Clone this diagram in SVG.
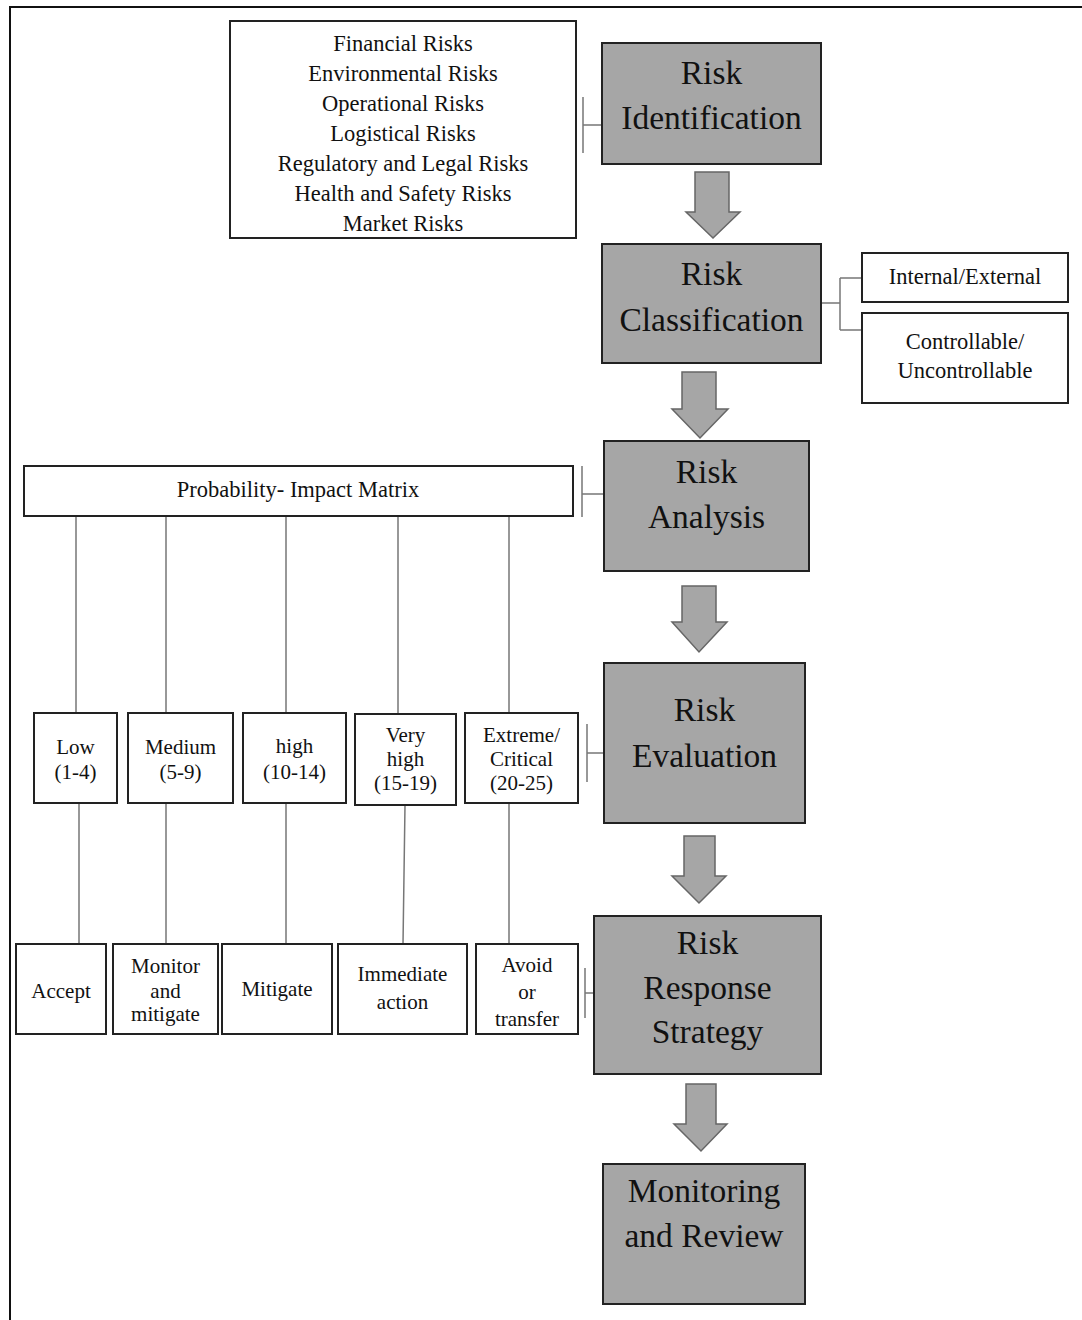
<svg xmlns="http://www.w3.org/2000/svg" width="1082" height="1320" viewBox="0 0 1082 1320">
<style>
.main{fill:#a6a6a6;stroke:#222;stroke-width:2}
.box{fill:#fff;stroke:#222;stroke-width:2}
.big{font-family:"Liberation Serif",serif;font-size:33.5px;fill:#111;text-anchor:middle}
.sm{font-family:"Liberation Serif",serif;font-size:21px;fill:#111;text-anchor:middle}
.md{font-family:"Liberation Serif",serif;font-size:22.5px;fill:#111;text-anchor:middle}
.ln{stroke:#777;stroke-width:1.5;fill:none}
.arr{fill:#a6a6a6;stroke:#666;stroke-width:1.5}
</style>
<rect width="1082" height="1320" fill="#fff"/>
<path d="M10,1320 V7 H1082" fill="none" stroke="#111" stroke-width="2"/>

<g id="connectors">
<path class="ln" d="M583,97 V153 M583,125 H602"/>
<path class="ln" d="M821,303 H840 M840,278 V330 M840,278 H862 M840,330 H862"/>
<path class="ln" d="M582,466 V517 M582,494 H604"/>
<path class="ln" d="M587,724 V782 M587,753 H604"/>
<path class="ln" d="M585,968 V1018 M585,993 H594"/>
<path class="ln" d="M76,516 V713 M166,516 V713 M286,516 V713 M398,516 V714 M509,516 V713"/>
<path class="ln" d="M79,803 V944 M166,803 V944 M286,803 V944 M405,805 L403,944 M509,803 V944"/>
<polygon class="arr" points="695,172 729,172 729,212 740,212 713,238 686,212 695,212"/>
<polygon class="arr" points="682,372 716,372 716,409 728,409 700,438 672,409 682,409"/>
<polygon class="arr" points="682,586 716,586 716,622 727,622 699,652 672,622 682,622"/>
<polygon class="arr" points="684,836 715,836 715,876 726,876 699,903 672,876 684,876"/>
<polygon class="arr" points="686,1084 716,1084 716,1124 727,1124 701,1151 674,1124 686,1124"/>
</g>

<g id="risk-list">
<rect class="box" x="230" y="21" width="346" height="217"/>
<text class="md" x="403" y="51">Financial Risks</text>
<text class="md" x="403" y="81">Environmental Risks</text>
<text class="md" x="403" y="111">Operational Risks</text>
<text class="md" x="403" y="141">Logistical Risks</text>
<text class="md" x="403" y="171">Regulatory and Legal Risks</text>
<text class="md" x="403" y="201">Health and Safety Risks</text>
<text class="md" x="403" y="231">Market Risks</text>
</g>

<g id="risk-identification">
<rect class="main" x="602" y="43" width="219" height="121"/>
<text class="big" x="711.5" y="84">Risk</text>
<text class="big" x="711.5" y="129">Identification</text>
</g>

<g id="risk-classification">
<rect class="main" x="602" y="244" width="219" height="119"/>
<text class="big" x="711.5" y="285">Risk</text>
<text class="big" x="711.5" y="331">Classification</text>
</g>

<g id="internal-external">
<rect class="box" x="862" y="253" width="206" height="49"/>
<text class="md" x="965" y="284">Internal/External</text>
</g>

<g id="controllable">
<rect class="box" x="862" y="313" width="206" height="90"/>
<text class="md" x="965" y="349">Controllable/</text>
<text class="md" x="965" y="378">Uncontrollable</text>
</g>

<g id="risk-analysis">
<rect class="main" x="604" y="441" width="205" height="130"/>
<text class="big" x="706.5" y="483">Risk</text>
<text class="big" x="706.5" y="528">Analysis</text>
</g>

<g id="probability-impact-matrix">
<rect class="box" x="24" y="466" width="549" height="50"/>
<text class="md" x="298" y="497">Probability- Impact Matrix</text>
</g>

<g id="level-low">
<rect class="box" x="34" y="713" width="83" height="90"/>
<text class="sm" x="75.5" y="754">Low</text>
<text class="sm" x="75.5" y="779">(1-4)</text>
</g>
<g id="level-medium">
<rect class="box" x="128" y="713" width="105" height="90"/>
<text class="sm" x="180.5" y="754">Medium</text>
<text class="sm" x="180.5" y="779">(5-9)</text>
</g>
<g id="level-high">
<rect class="box" x="243" y="713" width="103" height="90"/>
<text class="sm" x="294.5" y="753">high</text>
<text class="sm" x="294.5" y="779">(10-14)</text>
</g>
<g id="level-very-high">
<rect class="box" x="355" y="714" width="101" height="91"/>
<text class="sm" x="405.5" y="742">Very</text>
<text class="sm" x="405.5" y="766">high</text>
<text class="sm" x="405.5" y="790">(15-19)</text>
</g>
<g id="level-extreme">
<rect class="box" x="465" y="713" width="113" height="90"/>
<text class="sm" x="521.5" y="742">Extreme/</text>
<text class="sm" x="521.5" y="766">Critical</text>
<text class="sm" x="521.5" y="790">(20-25)</text>
</g>

<g id="risk-evaluation">
<rect class="main" x="604" y="663" width="201" height="160"/>
<text class="big" x="704.5" y="721">Risk</text>
<text class="big" x="704.5" y="767">Evaluation</text>
</g>

<g id="resp-accept">
<rect class="box" x="16" y="944" width="90" height="90"/>
<text class="sm" x="61" y="998">Accept</text>
</g>
<g id="resp-monitor">
<rect class="box" x="113" y="944" width="105" height="90"/>
<text class="sm" x="165.5" y="973">Monitor</text>
<text class="sm" x="165.5" y="998">and</text>
<text class="sm" x="165.5" y="1021">mitigate</text>
</g>
<g id="resp-mitigate">
<rect class="box" x="222" y="944" width="110" height="90"/>
<text class="sm" x="277" y="996">Mitigate</text>
</g>
<g id="resp-immediate">
<rect class="box" x="338" y="944" width="129" height="90"/>
<text class="sm" x="402.5" y="981">Immediate</text>
<text class="sm" x="402.5" y="1009">action</text>
</g>
<g id="resp-avoid">
<rect class="box" x="476" y="944" width="102" height="90"/>
<text class="sm" x="527" y="972">Avoid</text>
<text class="sm" x="527" y="999">or</text>
<text class="sm" x="527" y="1026">transfer</text>
</g>

<g id="risk-response-strategy">
<rect class="main" x="594" y="916" width="227" height="158"/>
<text class="big" x="707.5" y="954">Risk</text>
<text class="big" x="707.5" y="999">Response</text>
<text class="big" x="707.5" y="1043">Strategy</text>
</g>

<g id="monitoring-and-review">
<rect class="main" x="603" y="1164" width="202" height="140"/>
<text class="big" x="704" y="1202">Monitoring</text>
<text class="big" x="704" y="1247">and Review</text>
</g>
</svg>
